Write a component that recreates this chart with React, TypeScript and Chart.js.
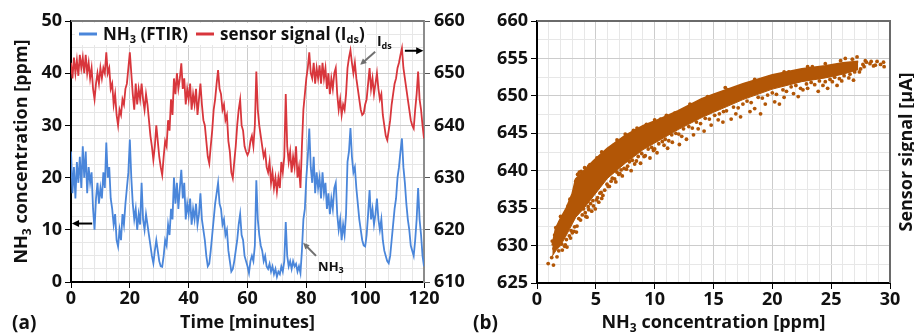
import React, { useEffect, useRef } from 'react';
import { Chart, registerables } from 'chart.js';

Chart.register(...registerables);

// ---------------- DATA ----------------
const TIME_STEP_MIN = 0.5; // sampling step of the time series (minutes)

// NH3 concentration measured by FTIR [ppm], t = 0 ... 120 min every 0.5 min
const NH3_FTIR_PPM = [
  25, 17, 22, 16, 23, 19, 24, 18, 26, 20, 25, 17, 22, 19, 21, 14, 10, 16, 19, 15, 18,
  16, 21, 18, 26.7, 20, 22, 16, 14, 11, 13, 8, 6.8, 10, 8, 13, 11, 15, 18, 21, 27.3,
  20, 15, 12, 14, 10, 13, 11, 19, 12, 10, 13, 11, 9, 7, 5, 3.6, 6, 8, 6, 4,
  3, 2.9, 5, 8, 7, 11, 9, 14, 12, 20, 15, 19, 14, 18, 21.5, 16, 19, 12, 15, 13,
  16, 11, 14, 12, 15, 11, 13, 17, 12, 10, 8, 5, 3, 3.5, 6, 9, 12, 15, 17, 19,
  15, 14, 11, 12, 9, 10, 6, 4, 2, 2.5, 4, 6, 8, 11, 13, 9, 8, 5, 4, 3,
  1.7, 4, 5, 4, 7, 19.5, 12, 9, 7, 6, 4, 5, 3, 2.5, 3.5, 2, 3, 1.5, 2.5, 1,
  2, 1.5, 3, 2, 4, 11.5, 5, 3, 4, 2.5, 4, 3, 3.5, 2, 3, 1.7, 6, 12, 14, 20,
  24, 29.4, 22, 19, 24, 17, 21, 18, 20, 16, 21, 17, 19, 14, 17, 13, 16, 14, 18, 19,
  13, 10, 12, 8, 11, 9, 13, 23, 25, 29.5, 24, 21, 22, 18, 15, 12, 10, 8, 7, 6.8,
  9, 13, 17.6, 12, 14, 11, 13, 16, 12, 10, 12, 8, 6, 5, 4, 3.6, 5, 8, 11, 14,
  16, 20, 22, 25, 27.5, 22, 19, 15, 12, 10, 7, 6, 5, 8, 12, 18, 12, 9, 5, 3,
];

// Sensor signal Ids [µA], same time base
const SENSOR_IDS_UA = [
  652, 649, 653, 650, 652.5, 649.5, 653.5, 651, 653, 650, 653.5, 650, 652, 649, 651, 647, 645, 648, 650, 648, 651,
  649, 651, 650, 654, 650, 651, 647, 648, 644, 646, 642, 640, 643, 642, 645, 644, 647, 648, 651, 654,
  650, 646, 643, 648, 644, 647, 645, 648, 645, 643, 646, 644, 641, 638, 636, 633.4, 636, 640, 637, 634,
  632, 630.5, 634, 637, 636, 641, 639, 645, 642, 649, 646, 650, 647, 649, 651.9, 647, 649, 644, 647, 645,
  648, 643, 646, 644, 647, 642, 645, 648, 644, 641, 640, 637, 634, 632.7, 636, 639, 643, 645, 648, 650.6,
  647, 646, 643, 644, 641, 642, 637, 635, 631, 629.9, 633, 636, 640, 643, 644.9, 640, 639, 636, 635, 634.3,
  635, 637, 638, 636, 640, 650.3, 643, 640, 638, 636, 634, 635, 632, 631, 633, 629, 631, 628, 630, 627.3,
  630, 628, 633, 631, 634, 646, 636, 633, 635, 631, 634, 632, 636, 630, 632, 628, 636, 643, 646, 649,
  651, 654, 650, 649, 652, 648, 651, 649, 651.5, 648, 652, 649, 651, 647, 650, 646, 649, 647, 650, 651,
  646, 643, 645, 642, 644, 643, 646, 651, 653, 654.4, 652, 650, 652, 649, 647, 645, 643, 642, 642.3, 644,
  645, 648, 651, 647, 649, 646, 648, 650, 647, 645, 646, 642, 640, 638, 637.2, 639, 641, 644, 646, 648,
  649, 651, 652, 653.5, 654.8, 651, 649, 647, 645, 643, 641, 640, 639.4, 643, 646, 650.3, 645, 643, 640, 637.5,
];

const TIME_TICKS = [0, 20, 40, 60, 80, 100, 120];
const PPM_TICKS = [0, 10, 20, 30, 40, 50];
const IDS_TICKS = [610, 620, 630, 640, 650, 660];
const CONC_TICKS = [0, 5, 10, 15, 20, 25, 30];
const SIGNAL_TICKS = [625, 630, 635, 640, 645, 650, 655, 660];

// Scatter (b): dense core of the cloud, upper and lower edges
const BAND_X = [1.3, 1.6, 2.0, 2.5, 3.0, 3.3, 4.0, 4.8, 6.0, 7.5, 9.0, 10.0, 12.0, 14.0, 15.0, 17.5, 20.0, 22.5, 24.5, 26.0, 27.3];
const BAND_UPPER = [630.0, 632.3, 633.6, 635.0, 636.9, 638.9, 640.0, 641.3, 643.0, 644.7, 646.0, 646.6, 648.0, 649.6, 650.2, 651.6, 652.8, 653.6, 654.0, 654.4, 654.6];
const BAND_LOWER = [628.6, 629.3, 630.0, 631.4, 632.9, 633.8, 635.0, 636.6, 639.0, 641.0, 642.8, 643.7, 645.5, 647.1, 647.8, 649.5, 650.9, 651.9, 652.4, 652.9, 653.5];

// Scatter (b): individual points scattered around the cloud
const SCATTER_X = [
  0.95, 1.4, 1.25, 1.45, 1.3, 1.5, 1.6, 1.7, 1.85, 1.95, 2.1, 2.25, 2.35, 2.5, 2.65, 2.75, 2.9, 3.05, 3.15, 3.3,
  3.4, 3.45, 3.7, 3.75, 3.95, 4.05, 4.25, 4.35, 4.5, 4.65, 4.75, 4.95, 5.1, 5.15, 5.45, 5.6, 5.9, 6.05, 6.3, 6.55,
  6.7, 6.95, 7.25, 7.5, 7.6, 8.0, 8.2, 8.45, 8.8, 9.1, 9.3, 9.6, 9.9, 10.2, 10.5, 10.8, 11.1, 11.5, 11.7, 12.1,
  12.3, 12.7, 13.1, 13.3, 13.7, 14.2, 14.5, 14.8, 15.4, 15.8, 16.2, 16.5, 16.9, 17.3, 17.7, 18.1, 18.5, 19.0, 19.4, 19.8,
  20.2, 20.6, 21.0, 21.4, 21.8, 22.2, 22.6, 23.0, 23.4, 23.9, 24.3, 24.7, 25.1, 25.5, 25.9, 26.2, 26.5, 26.9, 27.2, 27.4,
  27.7, 27.9, 28.3, 28.6, 28.9, 29.2, 29.45, 29.5,
  2.15, 2.4, 2.55, 2.85, 3.0, 3.2, 3.35, 3.55, 3.85, 4.1, 4.15, 4.4, 4.55, 4.8, 5.05, 5.25, 5.35, 5.5, 5.75, 5.95,
  6.15, 6.4, 6.6, 6.8, 7.05, 7.15, 7.4, 7.7, 7.85, 8.1, 8.3, 8.6, 8.9, 9.2, 9.45, 9.75, 10.0, 10.35, 10.65, 10.9,
  11.2, 11.45, 11.8, 12.05, 12.45, 12.9, 13.2, 13.55, 13.9, 14.3, 14.65, 15.1, 15.5, 15.85, 16.1, 16.7, 17.1, 17.5, 17.85, 18.2,
  18.8, 19.15, 19.6, 20.0, 20.35, 20.9, 21.2, 21.6, 22.0, 22.4, 22.9, 23.3, 23.6, 24.0, 24.5, 24.9, 25.3, 25.7, 26.1, 26.6,
  27.0, 27.5, 27.8, 28.0, 28.4, 28.75,
  2.0, 2.8, 3.6, 4.4, 5.5, 6.8, 8.5, 10.0, 11.0, 13.0, 16.0, 18.5, 21.0, 23.0, 24.5, 25.8, 26.8,
];
const SCATTER_Y = [
  627.6, 627.4, 628.4, 629.6, 630.6, 631.4, 632.4, 628.5, 629.3, 633.1, 630.2, 634.0, 629.9, 630.8, 635.3, 631.3, 632.0, 636.4, 631.9, 638.6,
  632.6, 639.5, 633.4, 639.9, 634.9, 640.4, 633.8, 635.2, 640.8, 634.6, 636.0, 634.9, 641.7, 636.4, 637.1, 636.7, 642.6, 637.9, 638.6, 643.4,
  638.5, 639.5, 639.3, 644.9, 640.2, 640.0, 645.4, 641.3, 641.0, 641.9, 646.2, 641.7, 642.7, 642.4, 646.9, 643.4, 643.0, 643.8, 647.7, 643.5,
  644.6, 644.2, 648.8, 644.8, 645.6, 645.3, 649.9, 646.1, 646.8, 646.5, 650.8, 646.9, 647.6, 647.2, 651.5, 647.9, 648.3, 647.6, 648.9, 652.5,
  649.2, 648.9, 649.8, 653.2, 650.3, 649.9, 650.8, 651.0, 653.9, 650.6, 651.4, 651.0, 651.9, 651.4, 652.0, 655.0, 652.4, 652.1, 655.2, 653.2,
  654.2, 654.7, 654.3, 654.0, 654.6, 654.2, 654.5, 653.9,
  629.4, 630.1, 629.8, 631.0, 631.7, 632.5, 631.8, 633.6, 634.1, 634.4, 633.9, 634.8, 635.6, 635.3, 636.1, 635.8, 637.0, 636.3, 637.4, 638.2,
  637.9, 639.0, 638.9, 639.8, 639.6, 640.1, 640.3, 640.6, 641.2, 641.4, 640.9, 641.9, 642.3, 642.0, 642.9, 643.1, 642.9, 643.6, 643.9, 644.2,
  644.0, 644.8, 645.0, 644.9, 645.6, 645.9, 645.7, 646.5, 646.3, 647.0, 646.9, 647.4, 647.6, 647.9, 648.0, 648.5, 648.4, 648.9, 649.3, 649.1,
  649.8, 649.7, 650.1, 650.4, 650.2, 650.8, 650.6, 651.2, 651.4, 651.0, 651.6, 651.8, 651.5, 652.0, 651.9, 652.2, 652.5, 652.3, 652.7, 652.9,
  653.2, 653.6, 653.9, 654.5, 654.6, 654.1,
  633.9, 636.2, 639.8, 640.6, 642.5, 644.1, 645.7, 646.8, 647.4, 648.9, 651.1, 652.2, 653.2, 653.9, 654.3, 654.7, 654.9,
];

// ---------------- STYLE ----------------
const FONT = '"Open Sans", "Noto Sans", "DejaVu Sans", sans-serif';
const BLUE = '#4A86DA';
const RED = '#D8363C';
const ORANGE = '#B25606';
const MAJOR_GRID = '#cccccc';
const MINOR_GRID = '#e7e7e7';
const TEXT = '#111111';

type Seg = { t: string; sub?: boolean };

function isIn(v: number, list: number[]) {
  return list.some((m) => Math.abs(m - v) < 1e-6);
}

function drawRich(
  ctx: CanvasRenderingContext2D,
  segs: Seg[],
  x: number,
  y: number,
  size: number,
  align: 'left' | 'center',
  rotate = 0,
  color = TEXT
) {
  ctx.save();
  ctx.translate(x, y);
  ctx.rotate(rotate);
  const main = `bold ${size}px ${FONT}`;
  const subF = `bold ${Math.round(size * 0.66)}px ${FONT}`;
  let w = 0;
  for (const s of segs) {
    ctx.font = s.sub ? subF : main;
    w += ctx.measureText(s.t).width;
  }
  let cx = align === 'center' ? -w / 2 : 0;
  ctx.textAlign = 'left';
  ctx.textBaseline = 'alphabetic';
  ctx.fillStyle = color;
  for (const s of segs) {
    ctx.font = s.sub ? subF : main;
    ctx.fillText(s.t, cx, s.sub ? size * 0.2 : 0);
    cx += ctx.measureText(s.t).width;
  }
  ctx.restore();
}

function arrow(ctx: CanvasRenderingContext2D, x1: number, y1: number, x2: number, y2: number, color: string, lw: number, head: number) {
  const a = Math.atan2(y2 - y1, x2 - x1);
  ctx.save();
  ctx.strokeStyle = color;
  ctx.fillStyle = color;
  ctx.lineWidth = lw;
  ctx.beginPath();
  ctx.moveTo(x1, y1);
  ctx.lineTo(x2 - Math.cos(a) * head * 0.8, y2 - Math.sin(a) * head * 0.8);
  ctx.stroke();
  ctx.beginPath();
  ctx.moveTo(x2, y2);
  ctx.lineTo(x2 - head * Math.cos(a - 0.45), y2 - head * Math.sin(a - 0.45));
  ctx.lineTo(x2 - head * Math.cos(a + 0.45), y2 - head * Math.sin(a + 0.45));
  ctx.closePath();
  ctx.fill();
  ctx.restore();
}

const tickFont = { family: FONT, size: 18, weight: 'bold' as const };

function gridFor(list: number[], drawOnChartArea = true) {
  return {
    drawOnChartArea,
    color: (c: any) => (c.tick && isIn(c.tick.value, list) ? MAJOR_GRID : MINOR_GRID),
    tickColor: (c: any) => (c.tick && isIn(c.tick.value, list) ? '#000' : 'rgba(0,0,0,0)'),
    tickLength: 6,
    lineWidth: 1,
  };
}

function tickCb(list: number[]) {
  return (v: any) => (isIn(Number(v), list) ? String(v) : '');
}

// ---------------- COMPONENT ----------------
export default function App() {
  const refA = useRef<HTMLCanvasElement | null>(null);
  const refB = useRef<HTMLCanvasElement | null>(null);

  useEffect(() => {
    document.body.style.margin = '0';

    const decorA = {
      id: 'decorA',
      afterDraw(chart: any) {
        const { ctx, chartArea: ca, scales } = chart;
        const x = scales.x, y = scales.y, y1 = scales.y1;
        ctx.save();
        ctx.strokeStyle = '#7a7a7a';
        ctx.lineWidth = 2;
        ctx.beginPath();
        ctx.moveTo(ca.left, ca.top);
        ctx.lineTo(ca.right, ca.top);
        ctx.stroke();
        ctx.restore();

        // legend
        ctx.save();
        ctx.fillStyle = '#ffffff';
        ctx.fillRect(75, 23, 292, 22);
        ctx.lineWidth = 3;
        ctx.strokeStyle = BLUE;
        ctx.beginPath(); ctx.moveTo(79, 34); ctx.lineTo(97, 34); ctx.stroke();
        ctx.strokeStyle = RED;
        ctx.beginPath(); ctx.moveTo(196, 34); ctx.lineTo(214, 34); ctx.stroke();
        ctx.restore();
        drawRich(ctx, [{ t: 'NH' }, { t: '3', sub: true }, { t: ' (FTIR)' }], 103, 40, 17, 'left');
        drawRich(ctx, [{ t: 'sensor signal (I' }, { t: 'ds', sub: true }, { t: ')' }], 220, 40, 17, 'left');

        // arrows pointing to the axes
        arrow(ctx, x.getPixelForValue(7.2), y.getPixelForValue(11.2), x.getPixelForValue(0.3), y.getPixelForValue(11.2), '#000', 2, 8);
        arrow(ctx, x.getPixelForValue(113.5), y1.getPixelForValue(654.3), x.getPixelForValue(119.8), y1.getPixelForValue(654.3), '#000', 2, 8);

        // Ids annotation
        arrow(ctx, x.getPixelForValue(103.4), y.getPixelForValue(44.1), x.getPixelForValue(98.3), y.getPixelForValue(41.6), '#707070', 2, 7);
        drawRich(ctx, [{ t: 'I' }, { t: 'ds', sub: true }], x.getPixelForValue(104), y.getPixelForValue(45.2), 14, 'left');
        // NH3 annotation
        arrow(ctx, x.getPixelForValue(83.3), y.getPixelForValue(5.0), x.getPixelForValue(78.9), y.getPixelForValue(7.5), '#707070', 2, 7);
        drawRich(ctx, [{ t: 'NH' }, { t: '3', sub: true }], x.getPixelForValue(84), y.getPixelForValue(2.2), 13, 'left');

        // axis titles
        drawRich(ctx, [{ t: 'Time [minutes]' }], (ca.left + ca.right) / 2, 328, 18, 'center');
        drawRich(ctx, [{ t: 'NH' }, { t: '3', sub: true }, { t: ' concentration [ppm]' }], 27, (ca.top + ca.bottom) / 2, 18, 'center', -Math.PI / 2);
        drawRich(ctx, [{ t: '(a)' }], 12, 329, 19, 'left');
      },
    };

    const decorB = {
      id: 'decorB',
      afterDraw(chart: any) {
        const { ctx, chartArea: ca } = chart;
        ctx.save();
        ctx.strokeStyle = '#6a6a6a';
        ctx.lineWidth = 2;
        ctx.beginPath();
        ctx.moveTo(ca.left, ca.top);
        ctx.lineTo(ca.right, ca.top);
        ctx.lineTo(ca.right, ca.bottom);
        ctx.stroke();
        ctx.restore();
        drawRich(ctx, [{ t: 'NH' }, { t: '3', sub: true }, { t: ' concentration [ppm]' }], (ca.left + ca.right) / 2, 328, 18, 'center');
        drawRich(ctx, [{ t: 'Sensor signal [µA]' }], 442, (ca.top + ca.bottom) / 2, 18, 'center', -Math.PI / 2);
        drawRich(ctx, [{ t: '(b)' }], 3, 329, 19, 'left');
      },
    };

    const chartA = new Chart(refA.current!, {
      type: 'line',
      data: {
        datasets: [
          {
            label: 'NH3 (FTIR)',
            data: NH3_FTIR_PPM.map((v, i) => ({ x: i * TIME_STEP_MIN, y: v })),
            borderColor: BLUE,
            borderWidth: 1.8,
            pointRadius: 0,
            tension: 0,
            yAxisID: 'y',
          },
          {
            label: 'sensor signal (Ids)',
            data: SENSOR_IDS_UA.map((v, i) => ({ x: i * TIME_STEP_MIN, y: v })),
            borderColor: RED,
            borderWidth: 1.8,
            pointRadius: 0,
            tension: 0,
            yAxisID: 'y1',
          },
        ],
      },
      options: {
        animation: false,
        responsive: false,
        devicePixelRatio: 1,
        layout: { padding: { top: 21, left: 0, right: 0, bottom: 0 } },
        plugins: { legend: { display: false }, tooltip: { enabled: false } },
        scales: {
          x: {
            type: 'linear',
            min: 0,
            max: 120,
            ticks: { stepSize: 4, autoSkip: false, maxRotation: 0, minRotation: 0, callback: tickCb(TIME_TICKS), font: tickFont, color: TEXT, padding: 0 },
            grid: gridFor(TIME_TICKS),
            border: { color: '#000', width: 2 },
            afterFit: (s: any) => { s.height = 51; },
          },
          y: {
            position: 'left',
            min: 0,
            max: 50,
            ticks: { stepSize: 2.5, autoSkip: false, callback: tickCb(PPM_TICKS), font: tickFont, color: TEXT, padding: 3 },
            grid: gridFor(PPM_TICKS),
            border: { color: '#000', width: 2 },
            afterFit: (s: any) => { s.width = 71; },
          },
          y1: {
            position: 'right',
            min: 610,
            max: 660,
            ticks: { stepSize: 10, autoSkip: false, callback: tickCb(IDS_TICKS), font: tickFont, color: TEXT, padding: 4 },
            grid: { drawOnChartArea: false, tickLength: 6, tickColor: '#555' },
            border: { color: '#8c8c8c', width: 2 },
            afterFit: (s: any) => { s.width = 46; },
          },
        },
      } as any,
      plugins: [decorA],
    });

    const chartB = new Chart(refB.current!, {
      type: 'scatter',
      data: {
        datasets: [
          {
            label: 'core upper',
            data: BAND_X.map((x, i) => ({ x, y: BAND_UPPER[i] })),
            showLine: true,
            borderColor: ORANGE,
            borderWidth: 2,
            pointRadius: 0,
            fill: false,
          },
          {
            label: 'core lower',
            data: BAND_X.map((x, i) => ({ x, y: BAND_LOWER[i] })),
            showLine: true,
            borderColor: ORANGE,
            borderWidth: 1,
            pointRadius: 0,
            fill: '-1',
            backgroundColor: ORANGE,
          },
          {
            label: 'points',
            data: SCATTER_X.map((x, i) => ({ x, y: SCATTER_Y[i] })),
            showLine: false,
            pointRadius: 1.9,
            pointBorderWidth: 0,
            backgroundColor: ORANGE,
            borderColor: ORANGE,
          },
        ],
      },
      options: {
        animation: false,
        responsive: false,
        devicePixelRatio: 1,
        layout: { padding: { top: 21, left: 0, right: 24, bottom: 0 } },
        plugins: { legend: { display: false }, tooltip: { enabled: false } },
        scales: {
          x: {
            type: 'linear',
            min: 0,
            max: 30,
            ticks: { stepSize: 1, autoSkip: false, maxRotation: 0, minRotation: 0, callback: tickCb(CONC_TICKS), font: tickFont, color: TEXT, padding: 0 },
            grid: gridFor(CONC_TICKS),
            border: { color: '#000', width: 2 },
            afterFit: (s: any) => { s.height = 50; },
          },
          y: {
            position: 'left',
            min: 625,
            max: 660,
            ticks: { stepSize: 2.5, autoSkip: false, callback: tickCb(SIGNAL_TICKS), font: tickFont, color: TEXT, padding: 3 },
            grid: gridFor(SIGNAL_TICKS),
            border: { color: '#000', width: 2 },
            afterFit: (s: any) => { s.width = 67; },
          },
        },
      } as any,
      plugins: [decorB],
    });

    return () => {
      chartA.destroy();
      chartB.destroy();
    };
  }, []);

  return (
    <div style={{ position: 'fixed', left: 0, top: 0, width: 914, height: 333, background: '#fff', overflow: 'hidden' }}>
      <canvas ref={refA} width={470} height={333} style={{ position: 'absolute', left: 0, top: 0, width: 470, height: 333 }} />
      <canvas ref={refB} width={444} height={333} style={{ position: 'absolute', left: 470, top: 0, width: 444, height: 333 }} />
    </div>
  );
}
